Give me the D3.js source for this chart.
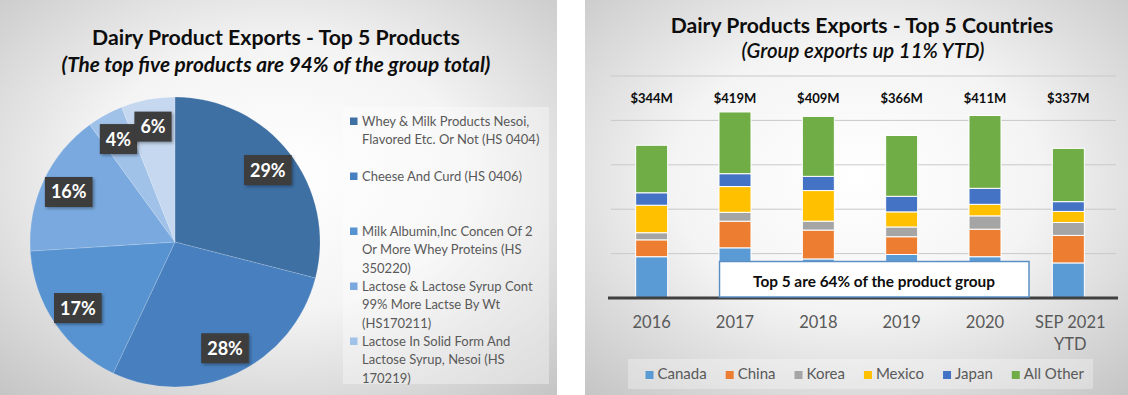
<!DOCTYPE html>
<html>
<head>
<meta charset="utf-8">
<script src="https://cdn.jsdelivr.net/npm/d3@7"></script>
<style>
  body { margin: 0; background: #fff; }
  svg { display: block; font-family: Lato, "Open Sans", sans-serif; }
</style>
</head>
<body>
<svg id="chart" width="1128" height="395"></svg>
<script>
// ---- data: left pie ----
var pieValues = [29, 28, 17, 16, 4, 6];
var pieColors = ["#3e70a4", "#4880bf", "#5893d1", "#79a9de", "#a0c1e8", "#c6d8ef"];
var pieLegend = [
  ["Whey & Milk Products Nesoi,", "Flavored Etc. Or Not (HS 0404)"],
  ["Cheese And Curd (HS 0406)"],
  ["Milk Albumin,Inc Concen Of 2", "Or More Whey Proteins (HS", "350220)"],
  ["Lactose & Lactose Syrup Cont", "99% More Lactse By Wt", "(HS170211)"],
  ["Lactose In Solid Form And", "Lactose Syrup, Nesoi (HS", "170219)"]
];

// ---- data: right stacked bars ($M) ----
var years = [["2016"], ["2017"], ["2018"], ["2019"], ["2020"], ["SEP 2021", "YTD"]];
var countries = ["Canada", "China", "Korea", "Mexico", "Japan", "All Other"];
var countryColors = ["#5b9bd5", "#ed7d31", "#a5a5a5", "#ffc000", "#4472c4", "#70ad47"];
var canada   = [93, 113, 88, 98, 93, 79];
var china    = [38, 60, 65, 40, 62, 62];
var korea    = [16, 20, 20, 22, 30, 29];
var mexico   = [62, 58, 69, 34, 26, 25];
var japan    = [28, 29, 32, 35, 36, 22];
var allOther = [107, 139, 135, 137, 164, 120];
var yTicks = [100, 200, 300, 400, 500];

var svg = d3.select("#chart");
var defs = svg.append("defs");

// panel backgrounds
function panelGrad(id) {
  var g = defs.append("radialGradient").attr("id", id)
    .attr("cx", "50%").attr("cy", "45%").attr("r", "75%");
  g.append("stop").attr("offset", "0%").attr("stop-color", "#ffffff");
  g.append("stop").attr("offset", "45%").attr("stop-color", "#f4f4f4");
  g.append("stop").attr("offset", "100%").attr("stop-color", "#c4c4c4");
}
panelGrad("bgL");
panelGrad("bgR");

var shadow = defs.append("filter").attr("id", "shadow")
  .attr("x", "-20%").attr("y", "-20%").attr("width", "150%").attr("height", "150%");
shadow.append("feDropShadow").attr("dx", 1.5).attr("dy", 1.5)
  .attr("stdDeviation", 1.5).attr("flood-color", "#000").attr("flood-opacity", 0.35);

svg.append("rect").attr("x", 0).attr("y", 0).attr("width", 557).attr("height", 395)
  .attr("fill", "url(#bgL)");
svg.append("rect").attr("x", 585).attr("y", 0).attr("width", 543).attr("height", 395)
  .attr("fill", "url(#bgR)");

// fit a text element's width by adjusting its font size
function fitText(sel, w) {
  var fs = parseFloat(sel.style("font-size"));
  var len = sel.node().getComputedTextLength();
  sel.style("font-size", (fs * w / len) + "px");
  return sel;
}

// ================= LEFT: pie =================
var left = svg.append("g");

fitText(left.append("text").attr("x", 276).attr("y", 45).attr("text-anchor", "middle")
  .style("font-size", "19px").style("font-weight", "bold").attr("fill", "#0d0d0d")
  .text("Dairy Product Exports - Top 5 Products"), 368);
fitText(left.append("text").attr("x", 276).attr("y", 72).attr("text-anchor", "middle")
  .style("font-size", "19px").style("font-weight", "bold").style("font-style", "italic")
  .attr("fill", "#0d0d0d")
  .text("(The top five products are 94% of the group total)"), 429);

var cx = 175, cy = 242, r = 145;
var pie = d3.pie().sort(null).value(function (d) { return d; });
var arcs = pie(pieValues);
var arc = d3.arc().innerRadius(0).outerRadius(r);
var labelArc = d3.arc().innerRadius(r * 0.81).outerRadius(r * 0.81);

var pg = left.append("g").attr("transform", "translate(" + cx + "," + cy + ")");
pg.selectAll("path.slice")
  .data(arcs)
  .enter().append("path")
  .attr("class", "slice")
  .attr("d", arc)
  .attr("fill", function (d, i) { return pieColors[i]; })
  .attr("stroke", "rgba(255,255,255,0.25)")
  .attr("stroke-width", 0.6);

var lab = pg.selectAll("g.lab")
  .data(arcs)
  .enter().append("g")
  .attr("class", "lab")
  .attr("transform", function (d) { return "translate(" + labelArc.centroid(d) + ")"; });
lab.each(function (d) {
  var g = d3.select(this);
  var t = g.append("text").attr("text-anchor", "middle").attr("y", 6.5)
    .style("font-size", "18px").style("font-weight", "bold").attr("fill", "#fff")
    .text(d.data + "%");
  var w = t.node().getComputedTextLength() + 12;
  g.insert("rect", "text").attr("x", -w / 2).attr("y", -15).attr("width", w).attr("height", 30)
    .attr("fill", "#3d3d3d").attr("filter", "url(#shadow)");
});

// legend
var lg = left.append("g");
lg.append("rect").attr("x", 343).attr("y", 107).attr("width", 206).attr("height", 277)
  .attr("fill", "#ffffff").attr("opacity", 0.35);
var lineH = 18.5, slotH = 55;
pieLegend.forEach(function (lines, i) {
  var by = 125.5 + i * slotH;
  lg.append("rect").attr("x", 350).attr("y", by - 8).attr("width", 7.5).attr("height", 7.5)
    .attr("fill", pieColors[i]);
  lines.forEach(function (ln, j) {
    lg.append("text").attr("x", 362).attr("y", by + j * lineH)
      .style("font-size", "13px").attr("fill", "#595959").text(ln);
  });
});

// ================= RIGHT: stacked bars =================
var right = svg.append("g");

fitText(right.append("text").attr("x", 862).attr("y", 33).attr("text-anchor", "middle")
  .style("font-size", "19px").style("font-weight", "bold").attr("fill", "#0d0d0d")
  .text("Dairy Products Exports - Top 5 Countries"), 383);
fitText(right.append("text").attr("x", 863).attr("y", 58).attr("text-anchor", "middle")
  .style("font-size", "18px").style("font-weight", "600").style("font-style", "italic")
  .attr("fill", "#0d0d0d")
  .text("(Group exports up 11% YTD)"), 243);

var x = d3.scaleBand().domain(d3.range(years.length)).range([610, 1110])
  .paddingInner(0.616).paddingOuter(0.308);
var y = d3.scaleLinear().domain([0, 500]).range([298, 76]);

right.append("g").selectAll("line")
  .data(yTicks)
  .enter().append("line")
  .attr("x1", 611).attr("x2", 1116)
  .attr("y1", function (d) { return y(d); }).attr("y2", function (d) { return y(d); })
  .attr("stroke", "#c9c9c9").attr("stroke-width", 1);

var table = years.map(function (yr, i) {
  return { i: i, Canada: canada[i], China: china[i], Korea: korea[i], Mexico: mexico[i],
           Japan: japan[i], "All Other": allOther[i] };
});
var stack = d3.stack().keys(countries)(table);

right.append("g").selectAll("g")
  .data(stack)
  .enter().append("g")
  .attr("fill", function (d, k) { return countryColors[k]; })
  .selectAll("rect")
  .data(function (d) { return d; })
  .enter().append("rect")
  .attr("x", function (d) { return x(d.data.i); })
  .attr("width", x.bandwidth())
  .attr("y", function (d) { return y(d[1]); })
  .attr("height", function (d) { return y(d[0]) - y(d[1]); })
  .attr("stroke", "#fff").attr("stroke-width", 1);

// baseline
right.append("line").attr("x1", 608).attr("x2", 1118).attr("y1", y(0)).attr("y2", y(0))
  .attr("stroke", "#404040").attr("stroke-width", 3);

// totals
right.append("g").selectAll("text")
  .data(table)
  .enter().append("text")
  .attr("x", function (d) { return x(d.i) + x.bandwidth() / 2; })
  .attr("y", 103)
  .attr("text-anchor", "middle")
  .style("font-size", "13px").style("font-weight", "bold").attr("fill", "#0d0d0d")
  .text(function (d) {
    return "$" + d3.sum(countries, function (c) { return d[c]; }) + "M";
  });

// annotation box
right.append("rect").attr("x", 719.5).attr("y", 261.5).attr("width", 309.5).attr("height", 35.5)
  .attr("fill", "#ffffff").attr("stroke", "#5b8fc4").attr("stroke-width", 1.5);
fitText(right.append("text").attr("x", 874).attr("y", 286.5).attr("text-anchor", "middle")
  .style("font-size", "14px").style("font-weight", "bold").attr("fill", "#0d0d0d")
  .text("Top 5 are 64% of the product group"), 242);

// x axis labels
var xl = right.append("g").selectAll("text")
  .data(years)
  .enter().append("text")
  .attr("text-anchor", "middle")
  .attr("x", function (d, i) { return x(i) + x.bandwidth() / 2 + (d.length > 1 ? 2 : 0); })
  .attr("y", 328)
  .style("font-size", "16.5px").attr("fill", "#595959");
xl.selectAll("tspan")
  .data(function (d) { return d; })
  .enter().append("tspan")
  .attr("x", function () { return d3.select(this.parentNode).attr("x"); })
  .attr("dy", function (d, j) { return j === 0 ? 0 : 22; })
  .text(function (d) { return d; });

// bottom legend
var bl = right.append("g");
bl.append("rect").attr("x", 628).attr("y", 359).attr("width", 465).attr("height", 30)
  .attr("fill", "#ffffff").attr("opacity", 0.3);
var items = bl.selectAll("g.item")
  .data(countries)
  .enter().append("g").attr("class", "item");
items.append("rect").attr("width", 8).attr("height", 8).attr("y", 371)
  .attr("fill", function (d, k) { return countryColors[k]; });
items.append("text").attr("x", 12).attr("y", 379)
  .style("font-size", "15px").attr("fill", "#595959")
  .text(function (d) { return d; });
var widths = [];
items.each(function () { widths.push(this.getBBox().width); });
var gap = 19;
var total = d3.sum(widths) + gap * (widths.length - 1);
var pos = 865 - total / 2;
items.attr("transform", function (d, k) {
  var p = pos;
  pos += widths[k] + gap;
  return "translate(" + p + ",0)";
});
</script>
</body>
</html>
